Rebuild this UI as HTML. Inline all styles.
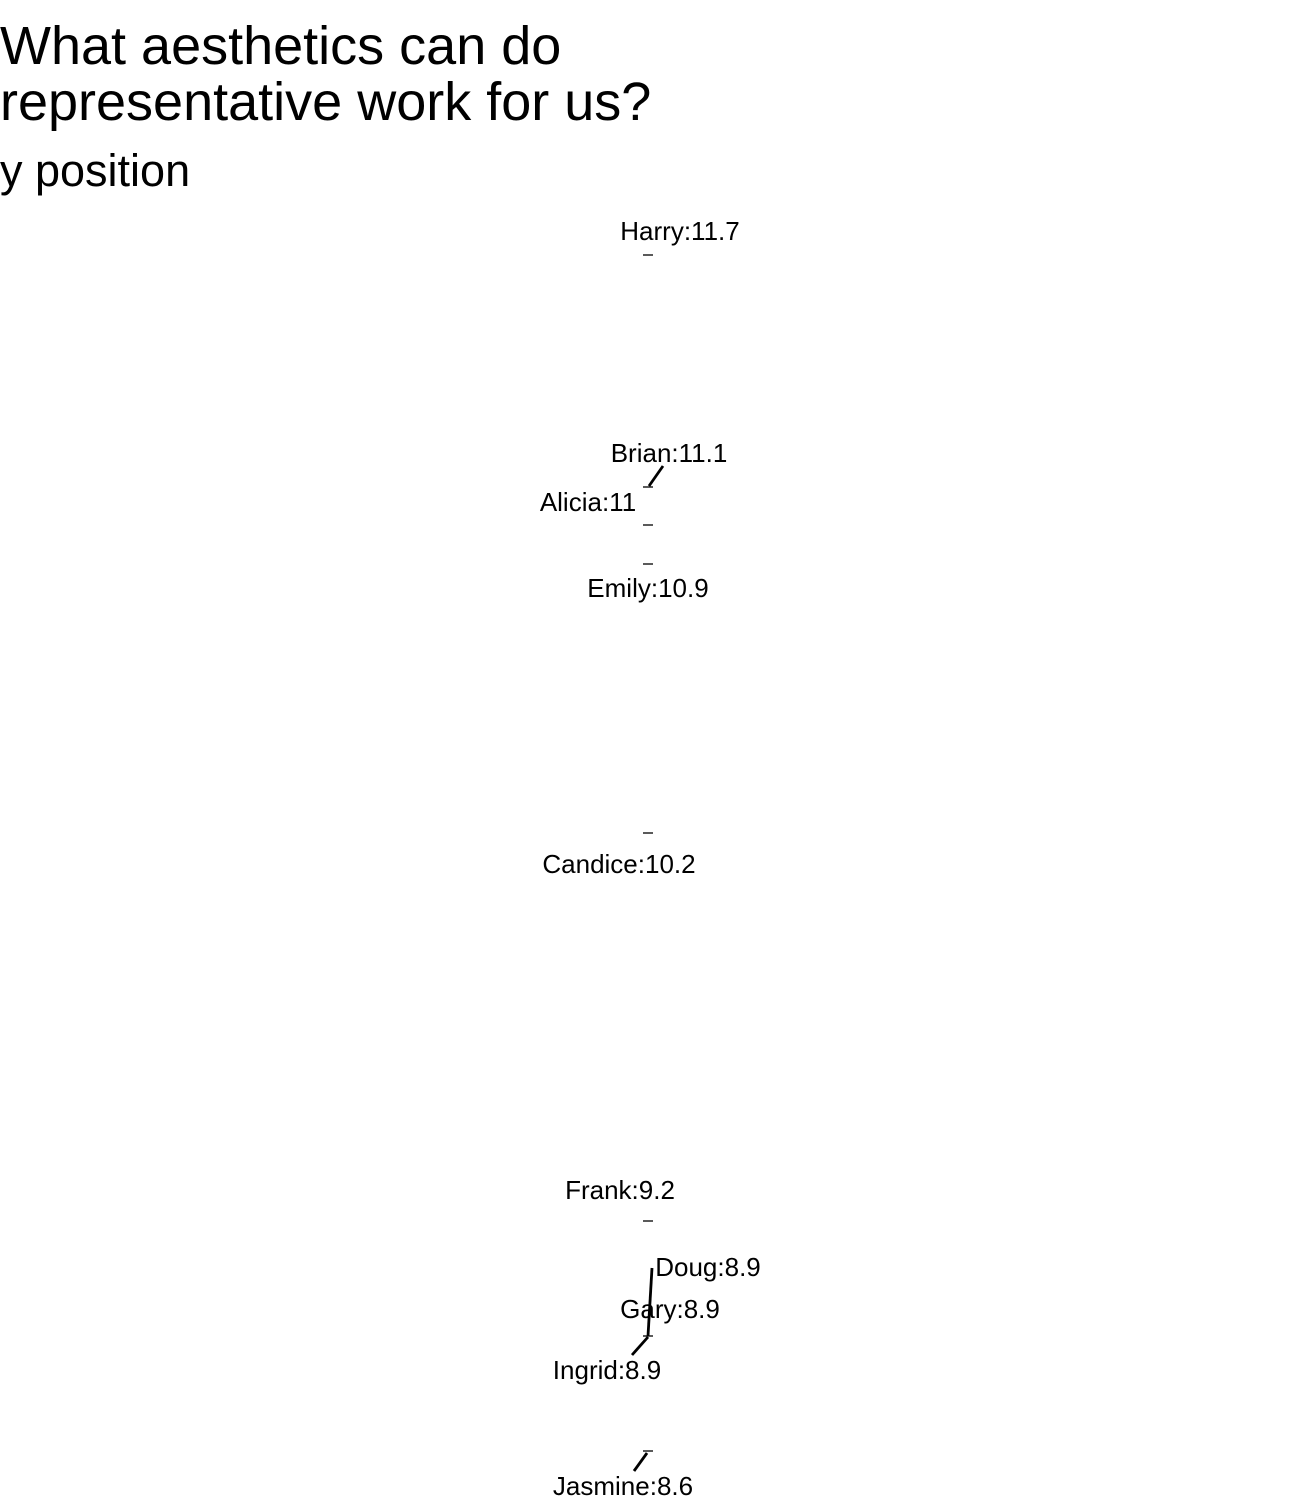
<!DOCTYPE html>
<html><head><meta charset="utf-8"><style>
html,body{margin:0;padding:0;background:#fff;}
svg{display:block;}
text{font-family:"Liberation Sans",Arial,sans-serif;fill:#000;}
</style></head><body>
<svg width="1296" height="1512" viewBox="0 0 1296 1512" xmlns="http://www.w3.org/2000/svg">
<rect width="1296" height="1512" fill="#fff"/>
<text x="0" y="64" font-size="54">What aesthetics can do</text>
<text x="0" y="120" font-size="54">representative work for us?</text>
<text x="0" y="186" font-size="45">y position</text>
<g font-size="26" text-anchor="middle">
<text x="680" y="240">Harry:11.7</text>
<text x="669" y="462">Brian:11.1</text>
<text x="588" y="511">Alicia:11</text>
<text x="648" y="597">Emily:10.9</text>
<text x="619" y="873">Candice:10.2</text>
<text x="620" y="1199">Frank:9.2</text>
<text x="708" y="1276">Doug:8.9</text>
<text x="670" y="1318">Gary:8.9</text>
<text x="607" y="1379">Ingrid:8.9</text>
<text x="623" y="1495">Jasmine:8.6</text>
</g>
<g stroke="#000" stroke-width="1.3">
<line x1="643" y1="255" x2="653" y2="255"/>
<line x1="643" y1="487" x2="653" y2="487"/>
<line x1="643" y1="525" x2="653" y2="525"/>
<line x1="643" y1="564" x2="653" y2="564"/>
<line x1="643" y1="833" x2="653" y2="833"/>
<line x1="643" y1="1221" x2="653" y2="1221"/>
<line x1="643" y1="1336" x2="653" y2="1336"/>
<line x1="643" y1="1451" x2="653" y2="1451"/>
</g>
<g stroke="#000" stroke-width="2.8" stroke-linecap="butt">
<line x1="663" y1="466" x2="649" y2="486"/>
<line x1="652" y1="1268" x2="648" y2="1336"/>
<line x1="632" y1="1355" x2="648" y2="1337"/>
<line x1="634" y1="1471" x2="647" y2="1453"/>
</g>
</svg>
</body></html>
